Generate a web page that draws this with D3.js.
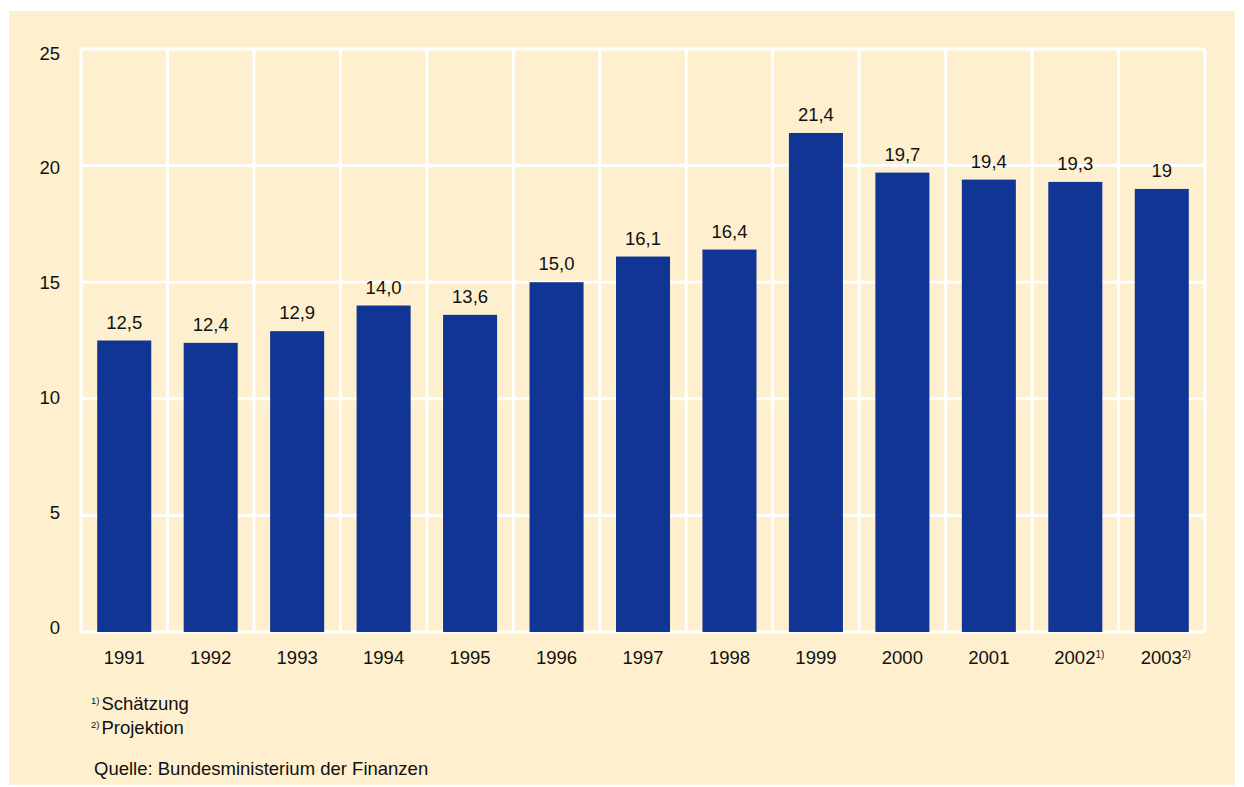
<!DOCTYPE html>
<html>
<head>
<meta charset="utf-8">
<script src="https://cdn.jsdelivr.net/npm/d3@7"></script>
<style>
  body { margin: 0; background: #ffffff; }
  text { font-family: "Liberation Sans", Arial, sans-serif; fill: #111; }
</style>
</head>
<body>
<div id="chart"></div>
<script>
// categories and values
var years = ["1991", "1992", "1993", "1994", "1995", "1996", "1997", "1998", "1999", "2000", "2001", "2002", "2003"];
var values = [12.5, 12.4, 12.9, 14.0, 13.6, 15.0, 16.1, 16.4, 21.4, 19.7, 19.4, 19.3, 19];
var valueLabels = ["12,5", "12,4", "12,9", "14,0", "13,6", "15,0", "16,1", "16,4", "21,4", "19,7", "19,4", "19,3", "19"];
var yearNotes = ["", "", "", "", "", "", "", "", "", "", "", "1)", "2)"];
var yTicks = [0, 5, 10, 15, 20, 25];
var footnotes = [["1)", "Schätzung"], ["2)", "Projektion"]];
var source = "Quelle: Bundesministerium der Finanzen";

var data = years.map(function(d, i) {
  return { year: d, value: values[i], label: valueLabels[i], note: yearNotes[i] };
});

var FS = 18.5;

// dimensions
var W = 1244, H = 787;
var margin = { top: 49, right: 39, bottom: 155, left: 81 },
  width = W - margin.left - margin.right,
  height = H - margin.top - margin.bottom;

var svg = d3.select("#chart")
  .append("svg")
  .attr("width", W)
  .attr("height", H);

// cream background panel
svg.append("rect")
  .attr("x", 9)
  .attr("y", 11)
  .attr("width", 1226)
  .attr("height", 774)
  .attr("fill", "#fef0cf");

var g = svg.append("g")
  .attr("transform", "translate(" + margin.left + "," + margin.top + ")");

var x = d3.scaleBand()
  .domain(years)
  .range([0, width])
  .paddingInner(0.375)
  .paddingOuter(0.1875);

var y = d3.scaleLinear()
  .domain([0, 25])
  .range([height, 0]);

// white grid: horizontal lines at ticks
g.selectAll(".hgrid")
  .data(yTicks)
  .enter()
  .append("line")
  .attr("class", "hgrid")
  .attr("x1", 0)
  .attr("x2", width)
  .attr("y1", function(d) { return y(d); })
  .attr("y2", function(d) { return y(d); })
  .attr("stroke", "#ffffff")
  .attr("stroke-width", 3);

// vertical lines between categories
var vpos = d3.range(years.length + 1).map(function(i) { return i * width / years.length; });
g.selectAll(".vgrid")
  .data(vpos)
  .enter()
  .append("line")
  .attr("class", "vgrid")
  .attr("x1", function(d) { return d; })
  .attr("x2", function(d) { return d; })
  .attr("y1", 0)
  .attr("y2", height)
  .attr("stroke", "#ffffff")
  .attr("stroke-width", 3);

// bars
g.selectAll(".bar")
  .data(data)
  .enter()
  .append("rect")
  .attr("class", "bar")
  .attr("x", function(d) { return x(d.year); })
  .attr("y", function(d) { return y(d.value); })
  .attr("width", x.bandwidth())
  .attr("height", function(d) { return y(0) - y(d.value); })
  .attr("fill", "#113594");

// value labels
g.selectAll(".vlabel")
  .data(data)
  .enter()
  .append("text")
  .attr("class", "vlabel")
  .attr("x", function(d) { return x(d.year) + x.bandwidth() / 2; })
  .attr("y", function(d) { return y(d.value) - 12; })
  .attr("text-anchor", "middle")
  .attr("font-size", FS)
  .text(function(d) { return d.label; });

// y axis labels (drift slightly toward the middle, as in the original)
g.selectAll(".ylabel")
  .data(yTicks)
  .enter()
  .append("text")
  .attr("class", "ylabel")
  .attr("x", -21)
  .attr("y", function(d) { return y(d) + 1.5 + d * 0.36; })
  .attr("text-anchor", "end")
  .attr("font-size", FS)
  .text(function(d) { return d; });

// x axis labels
var xl = g.selectAll(".xlabel")
  .data(data)
  .enter()
  .append("text")
  .attr("class", "xlabel")
  .attr("x", function(d) { return x(d.year) + x.bandwidth() / 2 + (d.note ? 4 : 0); })
  .attr("y", height + 32)
  .attr("text-anchor", "middle")
  .attr("font-size", FS);
xl.append("tspan").text(function(d) { return d.year; });
xl.append("tspan")
  .attr("font-size", 10)
  .attr("dy", -6)
  .text(function(d) { return d.note; });

// footnotes
footnotes.forEach(function(f, i) {
  var t = svg.append("text")
    .attr("x", 91)
    .attr("y", 710 + i * 24)
    .attr("font-size", FS);
  t.append("tspan").attr("font-size", 9.5).attr("dy", -6).text(f[0]);
  t.append("tspan").attr("dx", 2).attr("dy", 6).text(f[1]);
});

svg.append("text")
  .attr("x", 94)
  .attr("y", 775)
  .attr("font-size", FS)
  .text(source);
</script>
</body>
</html>
